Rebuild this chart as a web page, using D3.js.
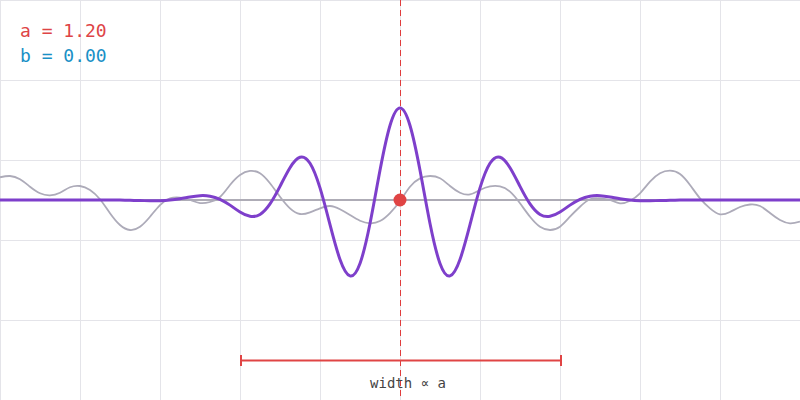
<!DOCTYPE html>
<html>
<head>
<meta charset="utf-8">
<script src="https://cdn.jsdelivr.net/npm/d3@7"></script>
<style>
  html, body { margin: 0; padding: 0; background: #ffffff; }
  svg { display: block; }
</style>
</head>
<body>
<svg id="chart" width="800" height="400"></svg>
<script>
// ---- data ----
const paramA = 1.20;
const paramB = 0.00;
const tStart = -5, tStep = 0.125;   // sample grid of the curves (x in grid units)
// purple wavelet (scaled by a, shifted by b)
const waveletValues = [
  0, 0, 0, 0, 0, 0, 0, 0, 0, 0, 0, 0,
  -0.001, -0.004, -0.006, -0.010, -0.009, -0.001, 0.016, 0.038, 0.054, 0.048,
  0.009, -0.064, -0.150, -0.204, -0.181, -0.049, 0.171, 0.404, 0.534, 0.459,
  0.151, -0.308, -0.744, -0.949, -0.794, -0.294, 0.371, 0.931,
  1.150,
  0.931, 0.371, -0.294, -0.794, -0.949, -0.744, -0.308, 0.151,
  0.459, 0.534, 0.404, 0.171, -0.049, -0.181, -0.204, -0.150, -0.064, 0.009,
  0.048, 0.054, 0.038, 0.016, -0.001, -0.009, -0.010, -0.006, -0.004, -0.001,
  0, 0, 0, 0, 0, 0, 0, 0, 0, 0, 0, 0
];
// gray signal
const signalValues = [
  0.284, 0.300, 0.259, 0.166, 0.084, 0.059, 0.091, 0.159, 0.175, 0.125,
  0.009, -0.166, -0.313, -0.375, -0.334, -0.209, -0.063, 0.021, 0.031, 0.000,
  -0.038, -0.025, 0.038, 0.188, 0.313, 0.363, 0.334, 0.209, 0.041, -0.104,
  -0.175, -0.154, -0.104, -0.075, -0.116, -0.188, -0.259, -0.291, -0.263, -0.163,
  -0.013, 0.166, 0.271, 0.300, 0.271, 0.175, 0.091, 0.069, 0.125, 0.169,
  0.169, 0.104, -0.041, -0.209, -0.334, -0.375, -0.334, -0.209, -0.084, 0.009,
  0.021, 0.000, -0.041, -0.009, 0.084, 0.229, 0.334, 0.366, 0.325, 0.188,
  0.021, -0.104, -0.179, -0.150, -0.088, -0.056, -0.075, -0.163, -0.250, -0.291,
  -0.271
];
const gridX = [-5, -4, -3, -2, -1, 0, 1, 2, 3, 4, 5];
const gridY = [-2.5, -1.5, -0.5, 0.5, 1.5, 2.5];
const bracketRange = [-2, 2];
const labelA = "a = " + paramA.toFixed(2);
const labelB = "b = " + paramB.toFixed(2);
const bracketLabel = "width \u221D a";

// ---- drawing ----
const W = 800, H = 400;
const svg = d3.select("#chart");
const x = d3.scaleLinear().domain([-5, 5]).range([0, W]);
const y = d3.scaleLinear().domain([-2.5, 2.5]).range([H, 0]);
const tAt = i => tStart + i * tStep;

// grid
svg.append("g").selectAll("line").data(gridX).join("line")
  .attr("x1", d => Math.round(x(d)) + 0.5).attr("x2", d => Math.round(x(d)) + 0.5)
  .attr("y1", 0).attr("y2", H)
  .attr("stroke", "#e4e4e9").attr("stroke-width", 1);
svg.append("g").selectAll("line").data(gridY).join("line")
  .attr("y1", d => Math.round(y(d)) + 0.5).attr("y2", d => Math.round(y(d)) + 0.5)
  .attr("x1", 0).attr("x2", W)
  .attr("stroke", "#e4e4e9").attr("stroke-width", 1);

// zero axis
svg.append("line")
  .attr("x1", 0).attr("x2", W).attr("y1", y(0)).attr("y2", y(0))
  .attr("stroke", "#aeacb6").attr("stroke-width", 2);

// signal
const line = d3.line().curve(d3.curveNatural)
  .x(d => x(d[0])).y(d => y(d[1]));
svg.append("path")
  .datum(signalValues.map((v, i) => [tAt(i), v]))
  .attr("d", line).attr("fill", "none")
  .attr("stroke", "#adabb9").attr("stroke-width", 1.8);

// centre dashed line
svg.append("line")
  .attr("x1", x(paramB) + 0.5).attr("x2", x(paramB) + 0.5).attr("y1", 0).attr("y2", H - 4)
  .attr("stroke", "#e03c3c").attr("stroke-width", 1)
  .attr("stroke-dasharray", "6,4");

// wavelet
svg.append("path")
  .datum(waveletValues.map((v, i) => [tAt(i), v]))
  .attr("d", line).attr("fill", "none")
  .attr("stroke", "#7e3fcb").attr("stroke-width", 3)
  .attr("stroke-linejoin", "round");

// centre dot
svg.append("circle")
  .attr("cx", x(paramB)).attr("cy", y(0)).attr("r", 6.5)
  .attr("fill", "#e04444");

// bracket
const by = 360.5;
const bg = svg.append("g").attr("stroke", "#e04444").attr("stroke-width", 2);
bg.append("line").attr("x1", x(bracketRange[0]) + 1).attr("x2", x(bracketRange[1]) + 1)
  .attr("y1", by).attr("y2", by);
bg.selectAll("line.tick").data(bracketRange).join("line").attr("class", "tick")
  .attr("x1", d => x(d) + 1).attr("x2", d => x(d) + 1)
  .attr("y1", by - 5.5).attr("y2", by + 5.5);

svg.append("text")
  .attr("x", x(paramB) + 8).attr("y", 388)
  .attr("text-anchor", "middle")
  .attr("font-family", "DejaVu Sans Mono, monospace").attr("font-size", 14)
  .attr("fill", "#444444").text(bracketLabel);

// parameter labels
svg.append("text").attr("x", 20).attr("y", 37)
  .attr("font-family", "DejaVu Sans Mono, monospace").attr("font-size", 18)
  .attr("fill", "#de4446").text(labelA);
svg.append("text").attr("x", 20).attr("y", 62)
  .attr("font-family", "DejaVu Sans Mono, monospace").attr("font-size", 18)
  .attr("fill", "#1a90c6").text(labelB);
</script>
</body>
</html>
